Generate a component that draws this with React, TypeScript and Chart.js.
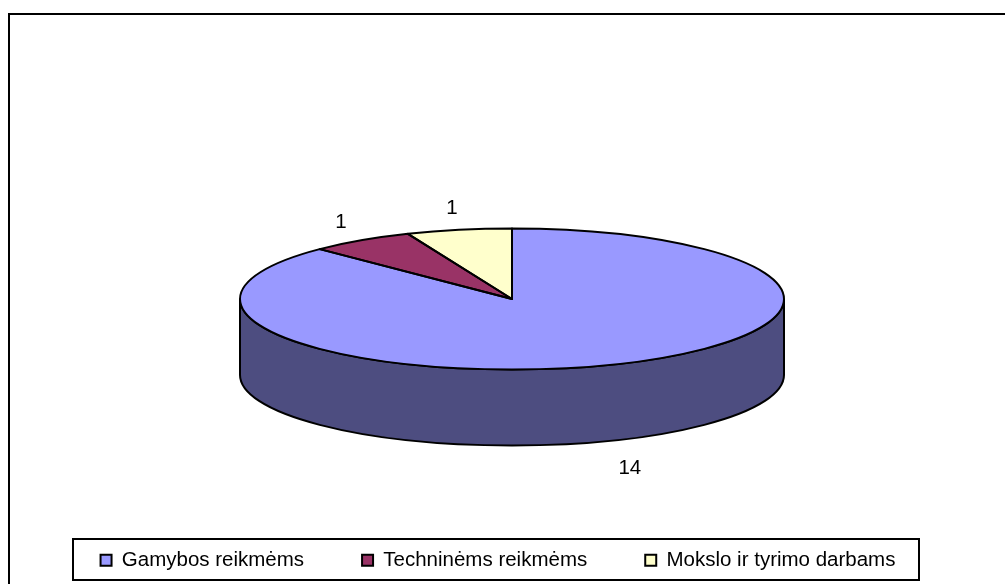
import React, { useEffect, useRef } from "react";
import { Chart, registerables } from "chart.js";

Chart.register(...registerables);

const categories = ["Gamybos reikmėms", "Techninėms reikmėms", "Mokslo ir tyrimo darbams"];
const seriesValues = [14, 1, 1];
const topColors = ["#9999FF", "#993366", "#FFFFCC"];
const sideColors = ["#4D4D80", "#4D1A33", "#808066"];

const FONT = "'Liberation Sans', Arial, sans-serif";
const FLATTEN = 70.5 / 272;
const DEPTH = 76;
const RADIUS = 272;

function ry(r: number) {
  return r * FLATTEN;
}

const piePlugin = {
  id: "flatPie",
  afterLayout(chart: any) {
    const l = chart.legend;
    const dx = -14;
    l.left += dx;
    l.right += dx;
    const h = l.bottom - l.top;
    l.top = 492;
    l.bottom = l.top + h;
  },
  beforeDraw(chart: any) {
    const { ctx } = chart;
    ctx.save();
    ctx.fillStyle = "#fff";
    ctx.fillRect(0, 0, chart.width, chart.height);
    ctx.strokeStyle = "#000";
    ctx.lineWidth = 2;
    ctx.strokeRect(9, 14, 1100, 700);
    ctx.restore();
  },
  beforeDatasetsDraw(chart: any) {
    const { ctx } = chart;
    const arcs = chart.getDatasetMeta(0).data;
    ctx.save();
    ctx.lineWidth = 2;
    ctx.strokeStyle = "#000";
    arcs.forEach((arc: any, i: number) => {
      const a0 = Math.max(arc.startAngle, 0);
      const a1 = Math.min(arc.endAngle, Math.PI);
      if (a1 <= a0) return;
      const r = arc.outerRadius;
      ctx.beginPath();
      ctx.ellipse(arc.x, arc.y, r, ry(r), 0, a0, a1, false);
      ctx.lineTo(arc.x + r * Math.cos(a1), arc.y + ry(r) * Math.sin(a1) + DEPTH);
      ctx.ellipse(arc.x, arc.y + DEPTH, r, ry(r), 0, a1, a0, true);
      ctx.closePath();
      ctx.fillStyle = sideColors[i];
      ctx.fill();
      ctx.stroke();
    });
    ctx.restore();

    const first = arcs[0];
    ctx.save();
    ctx.translate(first.x, first.y);
    ctx.scale(1, FLATTEN);
    ctx.translate(-first.x, -first.y);
  },
  afterDatasetsDraw(chart: any) {
    const { ctx } = chart;
    ctx.restore();
    const arcs = chart.getDatasetMeta(0).data;
    ctx.save();
    ctx.lineWidth = 2;
    ctx.strokeStyle = "#000";
    ctx.lineJoin = "round";
    arcs.forEach((arc: any) => {
      const r = arc.outerRadius;
      ctx.beginPath();
      ctx.moveTo(arc.x, arc.y);
      ctx.ellipse(arc.x, arc.y, r, ry(r), 0, arc.startAngle, arc.endAngle, false);
      ctx.closePath();
      ctx.stroke();
    });
    ctx.fillStyle = "#000";
    ctx.font = `20.5px ${FONT}`;
    ctx.textAlign = "center";
    ctx.textBaseline = "middle";
    arcs.forEach((arc: any, i: number) => {
      const mid = (arc.startAngle + arc.endAngle) / 2;
      const c = Math.cos(mid);
      const s = Math.sin(mid);
      const r = arc.outerRadius;
      const front = s > 0;
      const x = arc.x + (r + 36) * c;
      const y = arc.y + (ry(r) + 22) * s + (front ? DEPTH + 8 : 0);
      ctx.fillText(String(seriesValues[i]), x, y);
    });
    ctx.restore();
  },
  afterDraw(chart: any) {
    const { ctx } = chart;
    ctx.save();
    ctx.strokeStyle = "#000";
    ctx.lineWidth = 2;
    ctx.strokeRect(73, 539, 846, 41);
    ctx.restore();
  },
};

export default function App() {
  const ref = useRef<HTMLCanvasElement>(null);
  useEffect(() => {
    if (!ref.current) return;
    const chart = new Chart(ref.current, {
      type: "pie",
      data: {
        labels: categories,
        datasets: [
          {
            data: seriesValues,
            backgroundColor: topColors,
            borderWidth: 0,
            radius: RADIUS,
            clip: false,
          } as any,
        ],
      },
      options: {
        responsive: false,
        animation: false,
        layout: { padding: { left: 19, right: 0, top: 102.5, bottom: 0 } },
        plugins: {
          tooltip: { enabled: false },
          title: { display: false },
          legend: {
            display: true,
            position: "bottom",
            labels: {
              boxWidth: 11,
              boxHeight: 11,
              padding: 58,
              color: "#000",
              font: { family: FONT, size: 20.5 },
              generateLabels: () =>
                categories.map((text, i) => ({
                  text,
                  fillStyle: topColors[i],
                  strokeStyle: "#000",
                  lineWidth: 2,
                  hidden: false,
                  index: i,
                })),
            },
          },
        },
      },
      plugins: [piePlugin],
    } as any);
    return () => chart.destroy();
  }, []);
  return (
    <div style={{ position: "absolute", left: 0, top: 0, width: 1005, height: 584, overflow: "hidden" }}>
      <canvas ref={ref} width={1005} height={584} />
    </div>
  );
}
